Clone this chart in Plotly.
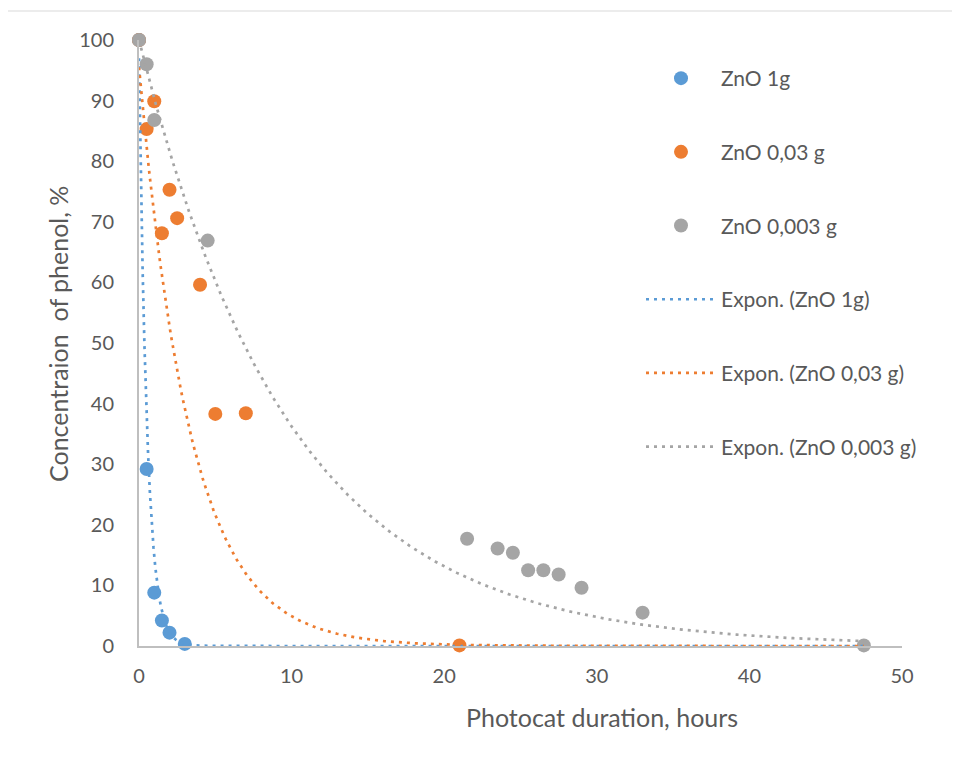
import numpy as np
import plotly.graph_objects as go

# ---------------- data ----------------
x_1g = [0, 0.5, 1, 1.5, 2, 3]
y_1g = [100, 29.2, 8.8, 4.2, 2.2, 0.35]

x_003 = [0, 0.5, 1, 1.5, 2, 2.5, 4, 5, 7, 21]
y_003 = [100, 85.3, 89.9, 68.1, 75.3, 70.6, 59.6, 38.3, 38.4, 0.1]

x_0003 = [0, 0.5, 1, 4.5, 21.5, 23.5, 24.5, 25.5, 26.5, 27.5, 29, 33, 47.5]
y_0003 = [100, 96.0, 86.8, 66.9, 17.7, 16.1, 15.4, 12.5, 12.5, 11.8, 9.6, 5.5, 0.1]

series_names = ["ZnO 1g", "ZnO 0,03 g", "ZnO 0,003 g"]
trend_names = ["Expon. (ZnO 1g)", "Expon. (ZnO 0,03 g)", "Expon. (ZnO 0,003 g)"]
# exponential trendline coefficients y = a * exp(b * x)
trend_a = [97.0, 95.5, 100.0]
trend_b = [-1.88, -0.297, -0.1015]
trend_x_range = [0, 47.5]

colors = ["#5B9BD5", "#ED7D31", "#A5A5A5"]
x_ticks = [0, 10, 20, 30, 40, 50]
y_ticks = [0, 10, 20, 30, 40, 50, 60, 70, 80, 90, 100]

FONT = "Lato"
TXT = "#595959"

# ---------------- figure ----------------
W, H = 960, 758
OFF = 8  # page body margin
PX0, PX1, PY0, PY1 = 139, 902, 40, 646  # plot area in target pixels
L = PX0 - OFF
T = PY0 - OFF
pw, ph = PX1 - PX0, PY1 - PY0
R = W - L - pw
B = H - T - ph


def px2paper_x(px):
    return (px - PX0) / pw


def px2paper_y(py):
    return (PY1 - py) / ph


fig = go.Figure()

for i, (xs, ys) in enumerate([(x_1g, y_1g), (x_003, y_003), (x_0003, y_0003)]):
    fig.add_trace(go.Scatter(
        x=xs, y=ys, mode="markers", name=series_names[i],
        marker=dict(color=colors[i], size=14, line=dict(width=0)),
        cliponaxis=False, legendgroup=f"g{i}",
    ))

tx = np.linspace(trend_x_range[0], trend_x_range[1], 400)
for i in range(3):
    fig.add_trace(go.Scatter(
        x=tx, y=trend_a[i] * np.exp(trend_b[i] * tx), mode="lines",
        name=trend_names[i],
        line=dict(color=colors[i], width=2.7, dash="3px,5px"),
        cliponaxis=False, legendgroup=f"t{i}",
    ))

fig.update_layout(
    width=W, height=H,
    margin=dict(l=L, r=R, t=T, b=B, pad=0),
    paper_bgcolor="white", plot_bgcolor="white",
    font=dict(family=FONT, color=TXT, size=20),
    showlegend=True,
    legend=dict(
        x=px2paper_x(641), y=px2paper_y(58), xanchor="left", yanchor="top",
        font=dict(size=21, color=TXT, family=FONT),
        tracegroupgap=43.4, itemwidth=70, bgcolor="rgba(0,0,0,0)",
        traceorder="grouped",
    ),
    xaxis=dict(
        range=[0, 50], tickvals=x_ticks, ticktext=[str(v) for v in x_ticks],
        showgrid=False, zeroline=False, showline=True, linecolor="#BFBFBF",
        linewidth=2, ticks="", ticklabelstandoff=11,
        tickfont=dict(size=20, color=TXT, family=FONT),
    ),
    yaxis=dict(
        range=[0, 100], tickvals=y_ticks, ticktext=[str(v) for v in y_ticks],
        showgrid=False, zeroline=False, showline=True, linecolor="#BFBFBF",
        linewidth=2, ticks="", ticklabelstandoff=19,
        tickfont=dict(size=20, color=TXT, family=FONT),
    ),
)

# axis titles
fig.add_annotation(
    text="Photocat duration, hours", xref="paper", yref="paper",
    x=px2paper_x(602), y=px2paper_y(717), showarrow=False,
    xanchor="center", yanchor="middle",
    font=dict(size=25, color=TXT, family=FONT),
)
fig.add_annotation(
    text="Concentraion&nbsp; of phenol, %", xref="paper", yref="paper",
    x=px2paper_x(58), y=px2paper_y(334), showarrow=False, textangle=-90,
    xanchor="center", yanchor="middle",
    font=dict(size=25, color=TXT, family=FONT),
)

# outer chart frame
fig.add_shape(
    type="rect", xref="paper", yref="paper",
    x0=px2paper_x(6), x1=px2paper_x(975), y0=px2paper_y(775), y1=px2paper_y(11),
    line=dict(color="#D9D9D9", width=1), fillcolor="rgba(0,0,0,0)", layer="below",
)

fig.write_html("out.html")
